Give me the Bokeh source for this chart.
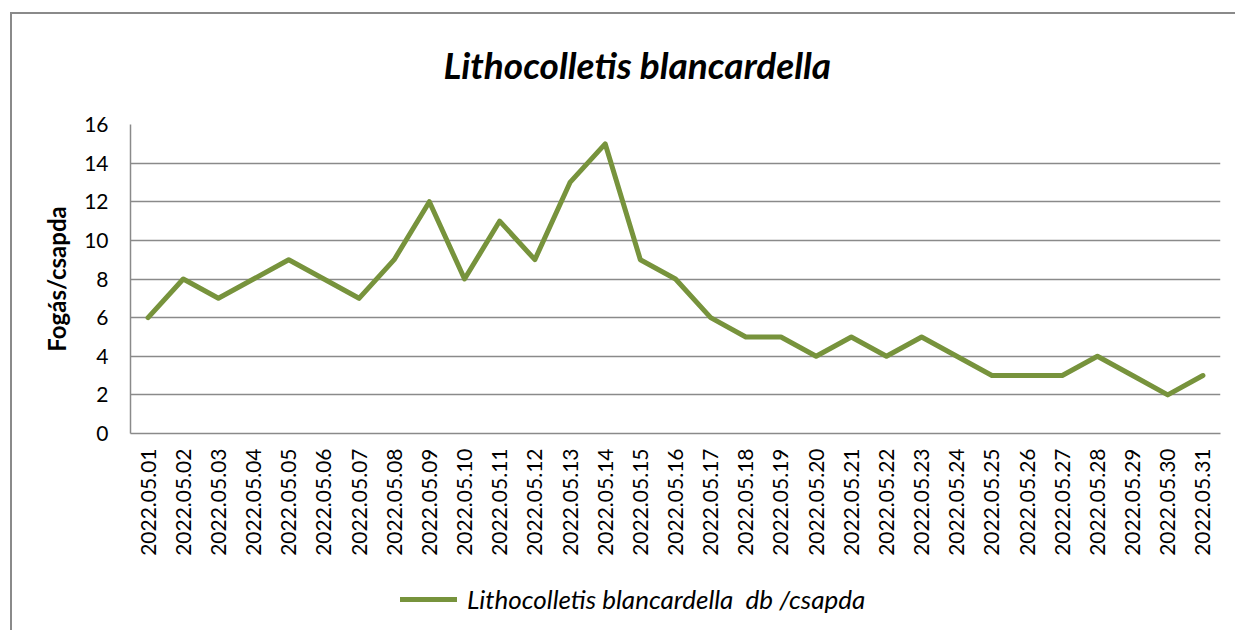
from bokeh.plotting import figure
from bokeh.layouts import column
from bokeh.models import FactorRange, Range1d, FixedTicker, Legend, LegendItem
from bokeh.embed import file_html
from bokeh.resources import INLINE
import math

dates = ["2022.05.%02d" % d for d in range(1, 32)]
values = [6, 8, 7, 8, 9, 8, 7, 9, 12, 8, 11, 9, 13, 15, 9, 8, 6, 5, 5, 4,
          5, 4, 5, 4, 3, 3, 3, 4, 3, 2, 3]
y_ticks = [0, 2, 4, 6, 8, 10, 12, 14, 16]
title_text = "Lithocolletis blancardella"
y_label = "Fogás/csapda"
legend_label = "Lithocolletis blancardella  db /csapda"

FONT = "Lato"
GREEN = "#77933C"
GRID = "#8a8a8a"
W = 1235

p = figure(width=W, height=560,
           x_range=FactorRange(*dates, range_padding=0),
           y_range=Range1d(0, 16),
           output_backend="svg", toolbar_location=None,
           min_border_left=130, min_border_right=15,
           min_border_top=124, min_border_bottom=127)
p.margin = (0, 0, 0, 0)
p.styles = {
    "background-color": "white",
    "background-image": "linear-gradient(#8a8a8a, #8a8a8a), linear-gradient(#8a8a8a, #8a8a8a)",
    "background-size": "100% 2px, 2px 100%",
    "background-position": "10px 12px, 10px 12px",
    "background-repeat": "no-repeat",
}

p.title.text = title_text
p.title.text_font = FONT
p.title.text_font_style = "bold italic"
p.title.text_font_size = "37px"
p.title.align = "left"
p.title.offset = 313
p.title.text_color = "#000000"
p.title.standoff = 75

p.outline_line_color = None
p.background_fill_color = "white"
p.border_fill_alpha = 0

p.xgrid.grid_line_color = None
p.ygrid.grid_line_color = GRID
p.ygrid.grid_line_width = 1.5
p.yaxis.ticker = FixedTicker(ticks=y_ticks)

for ax in (p.xaxis[0], p.yaxis[0]):
    ax.axis_line_color = GRID
    ax.axis_line_width = 1.5
    ax.major_tick_line_color = None
    ax.minor_tick_line_color = None
    ax.major_tick_out = 0
    ax.major_tick_in = 0
    ax.major_label_text_font = FONT
    ax.major_label_text_font_size = "21px"
    ax.major_label_text_color = "#000000"

p.yaxis.major_label_standoff = 22
p.yaxis.axis_label = y_label
p.yaxis.axis_label_text_font = FONT
p.yaxis.axis_label_text_font_style = "bold"
p.yaxis.axis_label_text_font_size = "24px"
p.yaxis.axis_label_text_color = "#000000"
p.yaxis.axis_label_standoff = 10

p.xaxis.major_label_orientation = math.pi / 2
p.xaxis.major_label_standoff = 15

p.line(x=dates, y=values, line_color=GREEN, line_width=5,
       line_join="round", line_cap="round")

# Legend strip below the chart (same series, its line kept outside the visible range)
p2 = figure(width=W, height=70,
            x_range=FactorRange(*dates, range_padding=0),
            y_range=Range1d(100, 101),
            output_backend="svg", toolbar_location=None,
            x_axis_type=None, y_axis_type=None,
            min_border_left=0, min_border_right=0,
            min_border_top=0, min_border_bottom=0)
p2.margin = (0, 0, 0, 0)
p2.styles = {
    "background-color": "white",
    "background-image": "linear-gradient(#8a8a8a, #8a8a8a)",
    "background-size": "2px 100%",
    "background-position": "10px 0px",
    "background-repeat": "no-repeat",
}
p2.outline_line_color = None
p2.background_fill_alpha = 0
p2.border_fill_alpha = 0
p2.xgrid.grid_line_color = None
p2.ygrid.grid_line_color = None
r2 = p2.line(x=dates, y=values, line_color=GREEN, line_width=5,
             line_join="round", line_cap="round")

legend = Legend(items=[LegendItem(label=legend_label, renderers=[r2])],
                location=(270, 15), orientation="horizontal",
                label_text_font=FONT, label_text_font_style="italic",
                label_text_font_size="26px", label_text_color="#000000",
                glyph_width=57, glyph_height=22, label_standoff=10,
                padding=0, margin=0, border_line_color=None,
                background_fill_alpha=0)
p2.add_layout(legend, "center")

layout = column(p, p2, spacing=0)
open("out.html", "w").write(file_html(layout, INLINE))
